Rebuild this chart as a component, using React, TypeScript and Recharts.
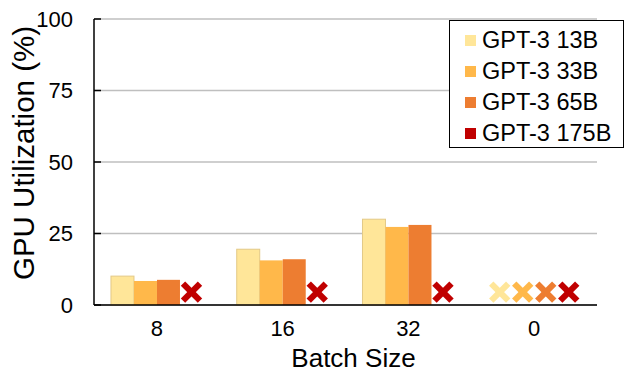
import { ComposedChart, Bar, XAxis, YAxis, CartesianGrid } from "recharts";

const batchSizes = ["8", "16", "32", "0"];
const seriesNames = ["GPT-3 13B", "GPT-3 33B", "GPT-3 65B", "GPT-3 175B"];
const seriesColors = ["#FFE699", "#FFB84A", "#ED7D31", "#C00000"];
// null = out of memory, drawn as a cross
const gpt3_13b = [10.1, 19.5, 30.0, null];
const gpt3_33b = [8.4, 15.6, 27.3, null];
const gpt3_65b = [8.8, 16.0, 28.0, null];
const gpt3_175b = [null, null, null, null];
const yTicks = [0, 25, 50, 75, 100];
const OOM_LEVEL = 4.5;

const seriesValues = [gpt3_13b, gpt3_33b, gpt3_65b, gpt3_175b];

const data = batchSizes.map((b, i) => {
  const row: Record<string, string | number | boolean> = { batch: b };
  seriesValues.forEach((vals, s) => {
    row[`s${s}`] = vals[i] ?? OOM_LEVEL;
    row[`s${s}oom`] = vals[i] == null;
  });
  return row;
});

const FONT = "'Liberation Sans', Arial, sans-serif";

function makeShape(s: number) {
  const color = seriesColors[s];
  return (p: any) => {
    const { x, y, width, height, payload } = p;
    if (payload[`s${s}oom`]) {
      const cx = x + width / 2;
      const h = 8.5;
      return (
        <g stroke={color} strokeWidth={6.2}>
          <line x1={cx - h} y1={y - h} x2={cx + h} y2={y + h} />
          <line x1={cx - h} y1={y + h} x2={cx + h} y2={y - h} />
        </g>
      );
    }
    return (
      <rect
        x={x}
        y={y}
        width={width}
        height={height}
        fill={color}
        stroke={s === 0 ? "#E3C987" : "none"}
        strokeWidth={1}
      />
    );
  };
}

function YLabel({ viewBox }: any) {
  const cx = viewBox.x + 23;
  const cy = viewBox.y + viewBox.height / 2 - 9;
  return (
    <text
      x={cx}
      y={cy}
      transform={`rotate(-90 ${cx} ${cy})`}
      textAnchor="middle"
      dominantBaseline="central"
      fontSize={29.5}
      fontFamily={FONT}
      fill="#000"
    >
      GPU Utilization (%)
    </text>
  );
}

export default function App() {
  return (
    <div style={{ position: "absolute", left: 0, top: 0, width: 630, height: 373, background: "#fff" }}>
      <ComposedChart
        width={630}
        height={373}
        data={data}
        margin={{ top: 19, right: 33, left: 0, bottom: 0 }}
        barCategoryGap="13.5%"
        barGap={0}
      >
        <CartesianGrid vertical={false} stroke="#BFBFBF" strokeWidth={1.5} />
        <XAxis
          dataKey="batch"
          height={68}
          tickLine={false}
          axisLine={{ stroke: "#000", strokeWidth: 1.5 }}
          tick={{ fontSize: 22, fontFamily: FONT, fill: "#000" }}
          tickMargin={9}
          label={{ value: "Batch Size", position: "insideBottom", offset: 6, fontSize: 26, fontFamily: FONT, fill: "#000", dx: 8 }}
        />
        <XAxis
          xAxisId="edges"
          type="number"
          domain={[0, 4]}
          ticks={[0, 1, 2, 3, 4]}
          allowDataOverflow
          mirror
          height={0}
          tick={false}
          axisLine={false}
          tickSize={7}
          tickLine={{ stroke: "#000", strokeWidth: 1.5 }}
        />
        <YAxis
          width={94}
          domain={[0, 100]}
          ticks={yTicks}
          interval={0}
          tickSize={-7}
          tickMargin={28}
          axisLine={{ stroke: "#000", strokeWidth: 1.5 }}
          tickLine={{ stroke: "#000", strokeWidth: 1.5 }}
          tick={{ fontSize: 22, fontFamily: FONT, fill: "#000" }}
          label={<YLabel />}
        />
        {seriesNames.map((name, s) => (
          <Bar key={name} dataKey={`s${s}`} name={name} fill={seriesColors[s]} shape={makeShape(s)} isAnimationActive={false} />
        ))}
      </ComposedChart>
      <div
        style={{
          position: "absolute",
          left: 449,
          top: 20,
          width: 175,
          height: 128,
          border: "1.5px solid #000",
          background: "#fff",
          fontFamily: FONT,
          fontSize: 23.5,
          boxSizing: "border-box",
          paddingTop: 4,
        }}
      >
        {seriesNames.map((name, s) => (
          <div key={name} style={{ display: "flex", alignItems: "center", height: 31, paddingLeft: 15 }}>
            <span style={{ width: 11, height: 11, background: seriesColors[s], marginRight: 6 }} />
            <span>{name}</span>
          </div>
        ))}
      </div>
    </div>
  );
}
